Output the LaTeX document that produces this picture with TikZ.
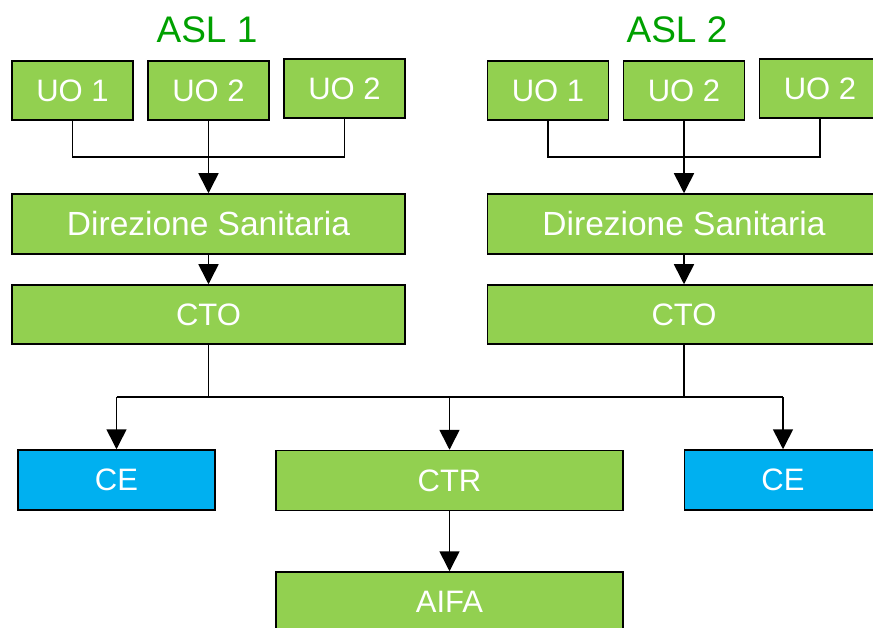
\documentclass[tikz,border=0pt]{standalone}
\usepackage{fontspec}
\setmainfont{Liberation Sans}
\usetikzlibrary{arrows.meta}
\definecolor{boxgreen}{RGB}{146,208,80}
\definecolor{boxblue}{RGB}{0,176,240}
\definecolor{titlegreen}{RGB}{0,160,0}
\tikzset{
  box/.style={draw=black, line width=1.5pt, fill=boxgreen, inner sep=0pt,
    text=white, font=\fontsize{31}{36}\selectfont, minimum height=59pt},
  uobox/.style={box, minimum width=121pt},
  widebox/.style={box, minimum width=393pt, minimum height=60pt},
  cebox/.style={box, fill=boxblue, minimum width=197pt, minimum height=60pt},
  midbox/.style={box, minimum width=347pt, minimum height=60pt},
  title/.style={text=titlegreen, font=\fontsize{37}{42}\selectfont},
  conn/.style={draw=black, line width=1.6pt},
  arr/.style={conn, -{Triangle[length=20pt,width=20pt]}}
}
\begin{document}
\begin{tikzpicture}[x=1pt,y=-1pt]
\useasboundingbox (0,0) rectangle (873,628);
\clip (0,0) rectangle (873,628);
\node[title] (aslA) at (207,30) {ASL 1};
\node[title] (aslB) at (677,30) {ASL 2};
\node[uobox] (uoA1) at (72.5,90.5) {UO 1};
\node[uobox] (uoA2) at (208.5,90.5) {UO 2};
\node[uobox] (uoA3) at (344.5,88.5) {UO 2};
\node[uobox] (uoB1) at (548,90.5) {UO 1};
\node[uobox] (uoB2) at (684,90.5) {UO 2};
\node[uobox] (uoB3) at (820,88.5) {UO 2};
\node[widebox, font=\fontsize{33.5}{38}\selectfont] (dirA) at (208.5,224) {Direzione Sanitaria};
\node[widebox, font=\fontsize{33.5}{38}\selectfont] (dirB) at (684,224) {Direzione Sanitaria};
\node[widebox, minimum height=59pt] (ctoA) at (208.5,314.5) {CTO};
\node[widebox, minimum height=59pt] (ctoB) at (684,314.5) {CTO};
\node[cebox] (ceA) at (116.5,480) {CE};
\node[midbox] (ctr) at (449.5,480.5) {CTR};
\node[cebox] (ceB) at (783,480) {CE};
\node[midbox] (aifa) at (449.5,602) {AIFA};
% UO groups
\draw[conn] (uoA1.south) -- ++(0,36.5) -| (uoA3.south);
\draw[arr] (uoA2.south) -- (dirA.north);
\draw[conn] (uoB1.south) -- ++(0,36.5) -| (uoB3.south);
\draw[arr] (uoB2.south) -- (dirB.north);
\draw[arr] (dirA.south) -- (ctoA.north);
\draw[arr] (dirB.south) -- (ctoB.north);
% bus
\coordinate (bus) at (0,397);
\draw[conn] (ctoA.south) -- (ctoA.south |- bus);
\draw[conn] (ctoB.south) -- (ctoB.south |- bus);
\draw[conn] (ceA.north |- bus) -- (ceB.north |- bus);
\draw[arr] (ceA.north |- bus) -- (ceA.north);
\draw[arr] (ctr.north |- bus) -- (ctr.north);
\draw[arr] (ceB.north |- bus) -- (ceB.north);
\draw[arr] (ctr.south) -- (aifa.north);
\end{tikzpicture}
\end{document}
